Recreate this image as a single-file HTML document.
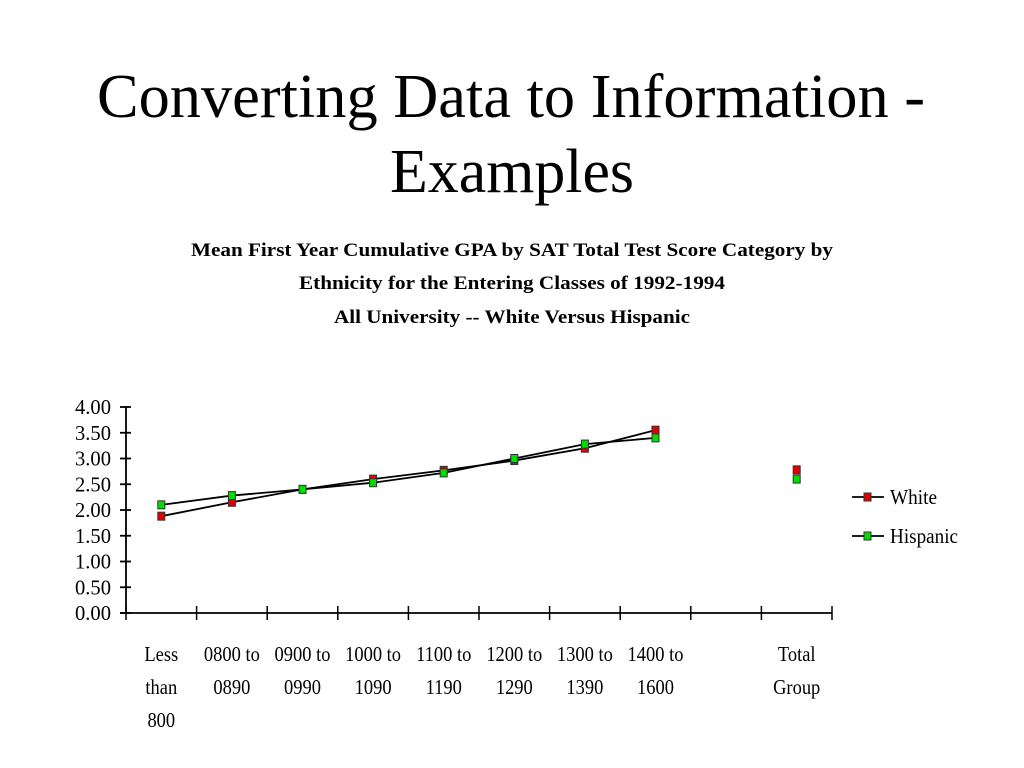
<!DOCTYPE html>
<html><head><meta charset="utf-8"><style>
html,body{margin:0;padding:0;background:#fff;}
svg{display:block;font-family:"Liberation Serif",serif;}
</style></head><body>
<svg width="1024" height="768" viewBox="0 0 1024 768">
<text x="511" y="117" text-anchor="middle" font-size="62" textLength="828" lengthAdjust="spacingAndGlyphs">Converting Data to Information -</text>
<text x="512" y="192" text-anchor="middle" font-size="62" textLength="244" lengthAdjust="spacingAndGlyphs">Examples</text>
<g font-weight="bold" font-size="19" text-anchor="middle">
<text x="512" y="256" textLength="642" lengthAdjust="spacingAndGlyphs">Mean First Year Cumulative GPA by SAT Total Test Score Category by</text>
<text x="512" y="289" textLength="426" lengthAdjust="spacingAndGlyphs">Ethnicity for the Entering Classes of 1992-1994</text>
<text x="512" y="323" textLength="356" lengthAdjust="spacingAndGlyphs">All University -- White Versus Hispanic</text>
</g>
<g id="yaxis"></g>
<g id="xaxis"></g>
<g id="series"></g>
<g font-size="21">
<g>
<line x1="852" y1="497" x2="884" y2="497" stroke="#000" stroke-width="1.8"/>
<rect x="864" y="493" width="7" height="8" fill="#e00000" stroke="#333" stroke-width="1"/>
<text x="890" y="504" textLength="47" lengthAdjust="spacingAndGlyphs">White</text></g>
<g>
<line x1="852" y1="536" x2="884" y2="536" stroke="#000" stroke-width="1.8"/>
<rect x="864" y="532" width="7" height="8" fill="#00dd00" stroke="#333" stroke-width="1"/>
<text x="890" y="543" textLength="68" lengthAdjust="spacingAndGlyphs">Hispanic</text></g>
</g>
</svg>
<script>
const categories=[["Less","than","800"],["0800 to","0890"],["0900 to","0990"],["1000 to","1090"],["1100 to","1190"],["1200 to","1290"],["1300 to","1390"],["1400 to","1600"],[],["Total","Group"]];
const whiteValues=[1.88,2.15,2.40,2.60,2.77,2.96,3.20,3.55,null,2.78];
const hispanicValues=[2.10,2.28,2.40,2.53,2.72,3.00,3.28,3.40,null,2.60];
const yTicks=[0,0.5,1,1.5,2,2.5,3,3.5,4];
const lineCount=8;
const NS="http://www.w3.org/2000/svg";
const X0=126,X1=832,Y0=613,Y1=407,YMAX=4;
const band=(X1-X0)/categories.length;
const xs=i=>X0+band*(i+0.5);
const ys=v=>Y0-(v/YMAX)*(Y0-Y1);
function mk(tag,attrs,parent){const e=document.createElementNS(NS,tag);for(const k in attrs)e.setAttribute(k,attrs[k]);parent.appendChild(e);return e;}
const ya=document.getElementById('yaxis');
let l=mk('line',{x1:X0,y1:Y1,x2:X0,y2:Y0,stroke:'#000','stroke-width':1.8},ya);


yTicks.forEach(v=>{
 const t=mk('line',{x1:X0-6,x2:X0+5,y1:ys(v),y2:ys(v),stroke:'#000','stroke-width':1.8},ya);
 
 
 const tx=mk('text',{x:X0-15,y:ys(v)+7,'text-anchor':'end','font-size':21,textLength:36,lengthAdjust:'spacingAndGlyphs'},ya);
 tx.textContent=v.toFixed(2);
 
 
});
const xa=document.getElementById('xaxis');
l=mk('line',{x1:X0-6,y1:Y0,x2:X1,y2:Y0,stroke:'#000','stroke-width':1.8},xa);


for(let i=0;i<=categories.length;i++){
 const t=mk('line',{x1:X0+band*i,x2:X0+band*i,y1:Y0-7,y2:Y0+7,stroke:'#000','stroke-width':1.5},xa);
 
 
}
categories.forEach((c,i)=>{
 c.forEach((s,j)=>{
  const tx=mk('text',{x:xs(i),y:661+j*33,'text-anchor':'middle','font-size':21,transform:`translate(${xs(i)},0) scale(0.88,1) translate(${-xs(i)},0)`},xa);
  tx.textContent=s;
  
  
 });
});
const sg=document.getElementById('series');
function drawSeries(vals,color,name){
 const pts=[];for(let i=0;i<lineCount;i++)if(vals[i]!=null)pts.push(xs(i)+','+ys(vals[i]));
 const p=mk('polyline',{points:pts.join(' '),fill:'none',stroke:'#000','stroke-width':1.8},sg);
 
 
 vals.forEach((v,i)=>{ if(v==null)return;
  const r=mk('rect',{x:xs(i)-3.5,y:ys(v)-4,width:7,height:8,fill:color,stroke:'#333','stroke-width':1},sg);
  
  
 });
}
drawSeries(whiteValues,'#e00000','white');
drawSeries(hispanicValues,'#00dd00','hispanic');
</script>
</body></html>
